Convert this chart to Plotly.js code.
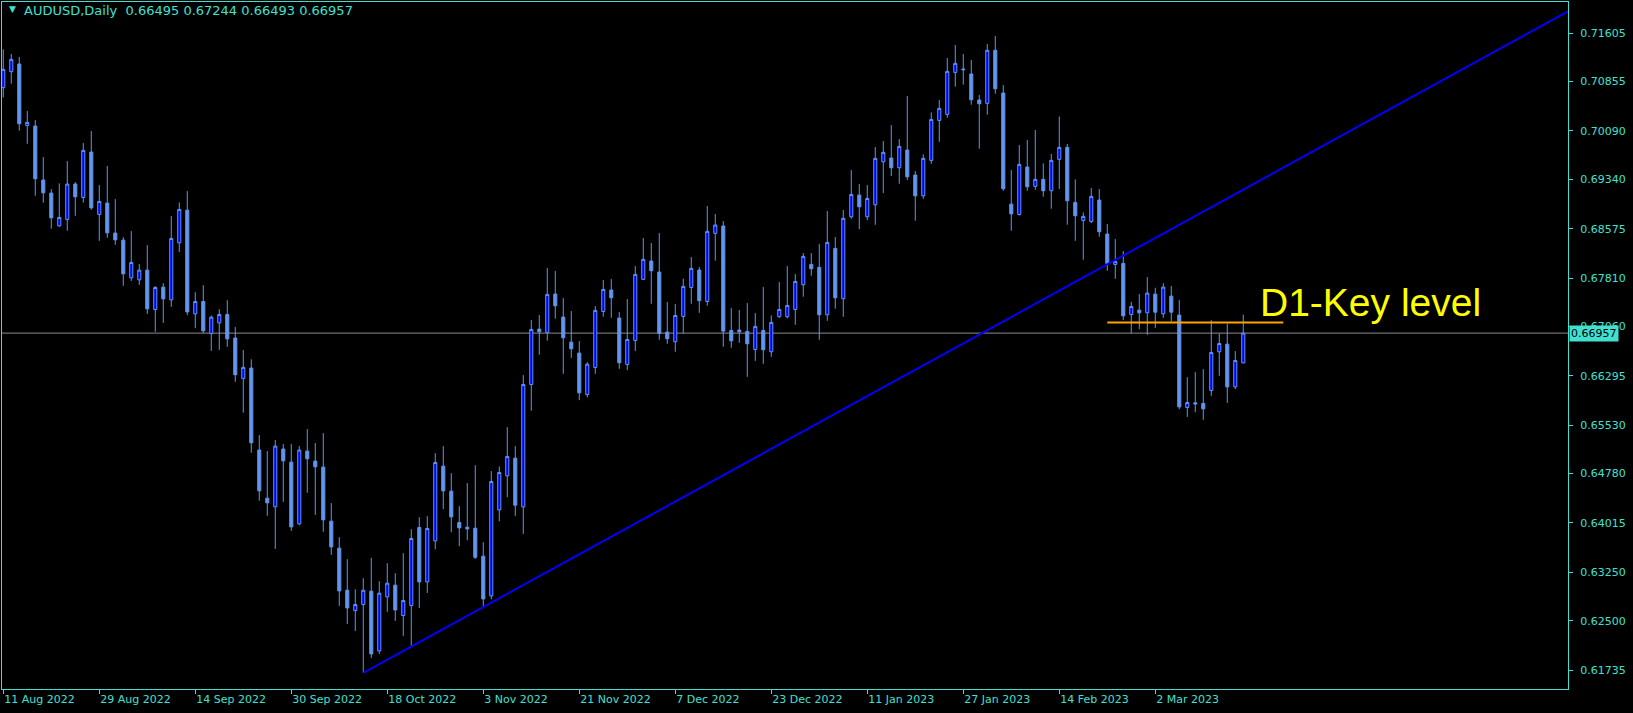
<!DOCTYPE html>
<html>
<head>
<meta charset="utf-8">
<script src="https://cdn.plot.ly/plotly-3.0.1.min.js"></script>
<style>
html,body{margin:0;padding:0;background:#000;}
#chart{width:1633px;height:713px;}
</style>
</head>
<body>
<div id="chart"></div>
<script>
// ---- Data (AUDUSD Daily, one bar per trading day, starting 11 Aug 2022) ----
const symbolTitle = "AUDUSD,Daily";
const opens = [
0.70761,0.71009,0.71128,0.70176,0.70166,0.69329,0.69127,0.68620,0.68719,0.69267,
0.69060,0.69763,0.68796,0.68972,0.68507,0.68398,0.67814,0.67783,0.67933,0.67323,
0.67669,0.67473,0.68357,0.68863,0.67255,0.67447,0.66950,0.67116,0.67245,0.66881,
0.66255,0.66415,0.65144,0.64399,0.64265,0.65160,0.64957,0.64001,0.65128,0.64973,
0.64880,0.64042,0.63624,0.62972,0.62657,0.62750,0.62957,0.62031,0.62869,0.63050,
0.62579,0.62734,0.63944,0.63101,0.63737,0.64895,0.64507,0.64021,0.63948,0.63933,
0.63499,0.62884,0.64217,0.64745,0.65019,0.64264,0.66161,0.67019,0.66968,0.67562,
0.67206,0.66817,0.66647,0.66006,0.66425,0.67293,0.67624,0.67190,0.66471,0.66843,
0.67790,0.68074,0.67903,0.66973,0.66823,0.67216,0.67665,0.67934,0.67448,0.68503,
0.68617,0.66998,0.67004,0.66983,0.66704,0.66998,0.66668,0.67211,0.67211,0.67324,
0.67707,0.68022,0.67976,0.67241,0.68270,0.67490,0.68760,0.69096,0.68760,0.68946,
0.69613,0.69670,0.69520,0.69794,0.69406,0.69085,0.69634,0.70254,0.70347,0.70998,
0.71050,0.70973,0.70569,0.70518,0.71340,0.70678,0.68956,0.68796,0.69531,0.69231,
0.69340,0.69164,0.69650,0.69836,0.68983,0.68704,0.68688,0.69019,0.68492,0.68021,
0.68037,0.67246,0.67313,0.67272,0.67561,0.67256,0.67530,0.67236,0.65804,0.65876,
0.65866,0.66067,0.66667,0.66786,0.66124,0.66495];
const highs = [
0.71355,0.71283,0.71236,0.70399,0.70259,0.69685,0.69189,0.69277,0.69623,0.69298,
0.69902,0.70089,0.69251,0.69546,0.69034,0.68445,0.68538,0.68026,0.68320,0.67685,
0.67731,0.68770,0.68982,0.69158,0.67591,0.67700,0.67230,0.67328,0.67467,0.67051,
0.66695,0.66550,0.65376,0.65128,0.65299,0.65237,0.65237,0.65206,0.65469,0.65252,
0.65407,0.64321,0.63794,0.63453,0.62988,0.63158,0.63474,0.63112,0.63391,0.63236,
0.63546,0.63918,0.64104,0.64120,0.65096,0.65205,0.64786,0.64274,0.64631,0.64910,
0.63716,0.64817,0.64890,0.65499,0.65205,0.66306,0.67160,0.67237,0.67966,0.67919,
0.67500,0.67298,0.66833,0.66507,0.67376,0.67779,0.67795,0.67283,0.67484,0.67996,
0.68431,0.68353,0.68508,0.67438,0.67407,0.67800,0.68136,0.67981,0.68927,0.68803,
0.68694,0.67345,0.67314,0.67422,0.67267,0.67671,0.67231,0.67748,0.67996,0.67872,
0.68198,0.68198,0.68337,0.68849,0.68446,0.68865,0.69484,0.69267,0.69251,0.69840,
0.69933,0.70182,0.69964,0.70631,0.69468,0.69727,0.70378,0.70570,0.71221,0.71422,
0.71283,0.71190,0.70647,0.71438,0.71562,0.70802,0.69484,0.69872,0.69950,0.70105,
0.69588,0.69733,0.70315,0.69888,0.69340,0.68828,0.69205,0.69190,0.68647,0.68414,
0.68228,0.67442,0.67561,0.67825,0.67660,0.67732,0.67685,0.67468,0.66274,0.66352,
0.66398,0.67158,0.66951,0.67106,0.66677,0.67244];
const lows = [
0.70611,0.70823,0.70094,0.69892,0.69086,0.68977,0.68574,0.68605,0.68543,0.68775,
0.68977,0.68868,0.68388,0.68434,0.68326,0.67690,0.67767,0.67705,0.67255,0.66976,
0.67116,0.67364,0.68212,0.67235,0.67033,0.66961,0.66682,0.66697,0.66744,0.66203,
0.65723,0.65102,0.64358,0.64125,0.63613,0.64342,0.63892,0.63980,0.64482,0.64140,
0.63877,0.63520,0.62730,0.62450,0.62341,0.61690,0.61923,0.61985,0.62636,0.62497,
0.62264,0.62109,0.62698,0.62931,0.63607,0.64228,0.63871,0.63654,0.63747,0.63457,
0.62723,0.62832,0.64041,0.64414,0.64124,0.63845,0.65753,0.66621,0.66839,0.67180,
0.66327,0.66574,0.65918,0.65960,0.66326,0.67210,0.67195,0.66404,0.66383,0.66678,
0.67780,0.67412,0.66854,0.66792,0.66668,0.66952,0.67412,0.67272,0.67381,0.68079,
0.66745,0.66730,0.66807,0.66280,0.66528,0.66481,0.66590,0.67195,0.67185,0.67086,
0.67521,0.67846,0.66854,0.67148,0.67335,0.67210,0.68729,0.68568,0.68708,0.68636,
0.69127,0.69391,0.69272,0.69329,0.68698,0.69039,0.69582,0.69923,0.70295,0.70776,
0.70807,0.70497,0.69814,0.70342,0.70668,0.69163,0.68543,0.68780,0.69164,0.69179,
0.69071,0.68885,0.69190,0.68637,0.68388,0.68094,0.68663,0.68451,0.67923,0.67799,
0.67158,0.66951,0.67018,0.66931,0.67034,0.67194,0.67143,0.65778,0.65659,0.65731,
0.65612,0.65984,0.66295,0.65876,0.66088,0.66493];
const closes = [
0.71045,0.71200,0.70202,0.70223,0.69349,0.69132,0.68744,0.68750,0.69267,0.69070,
0.69789,0.68899,0.68998,0.68512,0.68403,0.67876,0.68052,0.67933,0.67333,0.67664,
0.67488,0.68424,0.68874,0.67286,0.67447,0.66992,0.67204,0.67245,0.66868,0.66312,
0.66426,0.65257,0.64513,0.64327,0.65206,0.64978,0.63954,0.65144,0.65009,0.64885,
0.64063,0.63644,0.62962,0.62698,0.62750,0.62972,0.61985,0.62926,0.63081,0.62667,
0.62812,0.63774,0.63101,0.63929,0.64951,0.64512,0.64109,0.63938,0.63923,0.63483,
0.62837,0.64657,0.64796,0.65044,0.64290,0.66161,0.67014,0.66978,0.67557,0.67381,
0.66885,0.66714,0.66032,0.66476,0.67309,0.67634,0.67505,0.66497,0.66859,0.67867,
0.68100,0.67924,0.66952,0.66870,0.67231,0.67681,0.67960,0.67459,0.68534,0.68632,
0.66988,0.66838,0.66978,0.66792,0.67061,0.66699,0.67123,0.67324,0.67386,0.67758,
0.68146,0.67955,0.67241,0.68363,0.67505,0.68736,0.69106,0.68915,0.69044,0.69665,
0.69758,0.69520,0.69851,0.69380,0.69085,0.69665,0.70269,0.70440,0.71014,0.71138,
0.71040,0.70574,0.70512,0.71340,0.70745,0.69194,0.68806,0.69572,0.69226,0.69340,
0.69164,0.69634,0.69836,0.69009,0.68776,0.68766,0.69076,0.68528,0.68037,0.68068,
0.67225,0.67370,0.67272,0.67577,0.67282,0.67670,0.67282,0.65814,0.65881,0.65860,
0.65783,0.66657,0.66796,0.66124,0.66532,0.66957];

// x-axis date labels (one every 12 bars)
const dateTickBars = [0,12,24,36,48,60,72,84,96,108,120,132,144];
const dateTickLabels = ['11 Aug 2022','29 Aug 2022','14 Sep 2022','30 Sep 2022','18 Oct 2022','3 Nov 2022',
  '21 Nov 2022','7 Dec 2022','23 Dec 2022','11 Jan 2023','27 Jan 2023','14 Feb 2023','2 Mar 2023'];
// price-axis labels
const priceTicks = [0.71605,0.70855,0.70090,0.69340,0.68575,0.67810,0.67060,0.66295,0.65530,0.64780,0.64015,0.63250,0.62500,0.61735];

// drawn objects
const trendBars = [45, 196];
const trendPrices = [0.61690, 0.71973];
const keyLevelBars = [138, 160];
const keyLevelPrice = 0.67120;
const keyLevelText = "D1-Key level";
const keyTextBar = 156.9;
const keyTextPrice = 0.67430;

// ---- Chart ----
const bars = opens.map((_, i) => i);
const n = bars.length;
const last = n - 1;
const fmt = v => v.toFixed(5);
const TQ = '#40E0D0';
const CB = '#6495ED';

const traces = [
  {
    type: 'candlestick', x: bars, open: opens, high: highs, low: lows, close: closes,
    increasing: {line: {color: CB, width: 1}, fillcolor: '#0000FF'},
    decreasing: {line: {color: CB, width: 1}, fillcolor: CB},
    whiskerwidth: 0, hoverinfo: 'skip', showlegend: false
  },
  {
    type: 'scatter', mode: 'lines', x: trendBars, y: trendPrices,
    line: {color: '#0000FF', width: 2}, hoverinfo: 'skip', showlegend: false
  },
  {
    type: 'scatter', mode: 'lines', x: keyLevelBars, y: [keyLevelPrice, keyLevelPrice],
    line: {color: '#FFA500', width: 2}, hoverinfo: 'skip', showlegend: false
  }
];

const font = {family: 'DejaVu Sans, Verdana, sans-serif', size: 11, color: TQ};

const layout = {
  width: 1633, height: 713,
  paper_bgcolor: '#000', plot_bgcolor: '#000',
  margin: {l: 2, r: 65, t: 2, b: 24, pad: 0},
  showlegend: false, hovermode: false,
  boxgap: 0.45,
  font: font,
  xaxis: {
    range: [-0.16, 195.59],
    rangeslider: {visible: false},
    showgrid: false, zeroline: false,
    showline: true, mirror: true, linecolor: TQ, linewidth: 1,
    tickmode: 'array', tickvals: dateTickBars, ticktext: dateTickLabels,
    ticks: 'outside', ticklen: 4, tickcolor: TQ, tickwidth: 1,
    ticklabelposition: 'outside right',
    tickfont: font, fixedrange: true
  },
  yaxis: {
    side: 'right',
    range: [0.61441, 0.72089],
    showgrid: false, zeroline: false,
    showline: true, mirror: true, linecolor: TQ, linewidth: 1,
    tickmode: 'array', tickvals: priceTicks, ticktext: priceTicks.map(fmt),
    ticks: 'outside', ticklen: 4, tickcolor: TQ, tickwidth: 1,
    ticklabelstandoff: 5,
    tickfont: font, fixedrange: true
  },
  shapes: [
    {type: 'line', xref: 'paper', yref: 'y', x0: 0, x1: 1, y0: closes[last], y1: closes[last],
     line: {color: '#8C8C8C', width: 1}, layer: 'below'}
  ],
  annotations: [
    {xref: 'paper', yref: 'paper', x: 0.0035, y: 0.9895, xanchor: 'left', yanchor: 'middle',
     text: '▼', showarrow: false, font: {family: 'DejaVu Sans', size: 9, color: TQ}},
    {xref: 'paper', yref: 'paper', x: 0.0125, y: 0.9875, xanchor: 'left', yanchor: 'middle',
     text: symbolTitle + '  ' + [opens[last], highs[last], lows[last], closes[last]].map(fmt).join(' '),
     showarrow: false, font: {family: 'DejaVu Sans, Verdana, sans-serif', size: 13, color: TQ}},
    {xref: 'paper', yref: 'y', x: 1, y: closes[last], xanchor: 'left', yanchor: 'middle',
     xshift: 1, text: fmt(closes[last]), showarrow: false, bgcolor: TQ, borderpad: 1,
     font: {family: 'DejaVu Sans, Verdana, sans-serif', size: 11, color: '#000'}},
    {xref: 'x', yref: 'y', x: keyTextBar, y: keyTextPrice, xanchor: 'left', yanchor: 'middle',
     text: keyLevelText, showarrow: false,
     font: {family: 'Liberation Sans, Arial, sans-serif', size: 39, color: '#FFFF00'}}
  ]
};

Plotly.newPlot('chart', traces, layout, {displayModeBar: false, staticPlot: true});
</script>
</body>
</html>
